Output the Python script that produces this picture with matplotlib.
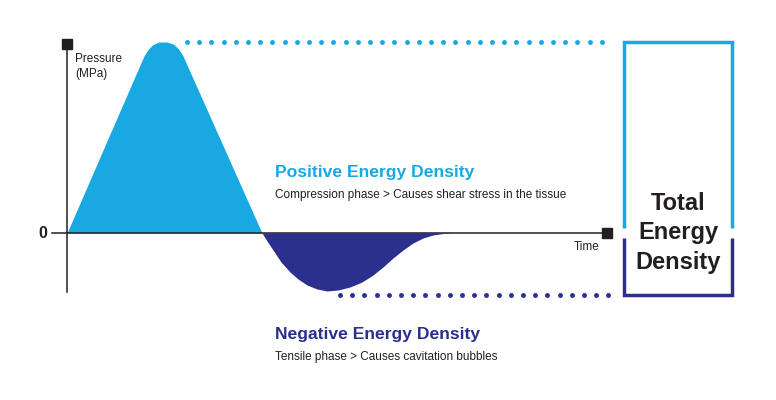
import numpy as np
import matplotlib.pyplot as plt

plt.rcParams['font.family'] = ['Liberation Sans', 'DejaVu Sans']

LIGHT = '#18A9E3'
DARK = '#2B2F8E'
INK = '#231F20'

# compression pulse (time, pressure)
pos_t = [0, 73, 77, 81, 86, 92, 100, 107, 112, 116, 120, 195]
pos_p = [0, 168, 177, 183.5, 188.5, 191, 191, 188.5, 183.5, 177, 168, 0]

# tensile pulse
neg_t = [195, 200, 206, 214, 223, 231, 240, 250, 260, 271, 283, 295, 306, 316, 326, 336, 346, 356, 366, 376, 386]
neg_p = [0, -8, -17, -29, -39, -46, -52, -56, -58, -57, -54, -49, -42, -34, -25, -17, -10, -5, -2, -0.5, 0]

fig = plt.figure(figsize=(7.76, 4.0), dpi=100)
ax = fig.add_axes([0, 0, 1, 1])
ax.set_xlim(-67, 709)
ax.set_ylim(-167, 233)
ax.axis('off')

# pulses
ax.fill_between(pos_t, pos_p, 0, color=LIGHT, lw=0)
ax.fill_between(neg_t, neg_p, 0, color=DARK, lw=0)

# axes
ax.plot([-15, 540], [0, 0], color=INK, lw=1.1, zorder=3)
ax.plot([0, 0], [-59, 188], color=INK, lw=1.1, zorder=3)
ax.plot([0], [189], marker='s', ms=7, color=INK, zorder=4)
ax.plot([540], [0], marker='s', ms=7, color=INK, zorder=4)

ax.text(-20, 0, '0', ha='right', va='center', fontsize=11.5, fontweight='bold', color=INK)
ax.text(8, 180, 'Pressure\n(MPa)', ha='left', va='top', fontsize=8.5, color=INK, linespacing=1.3)
ax.text(520, -14, 'Time', ha='center', va='center', fontsize=8.5, color=INK)

# dotted guide lines
top = max(pos_p)
bot = min(neg_p) - 4
dots_t = np.arange(120, 545, 12.2)
ax.plot(dots_t, [top] * len(dots_t), ls='none', marker='o', ms=2.5, color=LIGHT)
dots_b = np.arange(273, 545, 12.2)
ax.plot(dots_b, [bot] * len(dots_b), ls='none', marker='o', ms=2.5, color=DARK)

# total energy density box
x0, x1 = 557, 665
ax.plot([x0, x0, x1, x1], [5, top, top, 5], color=LIGHT, lw=2.5,
        solid_joinstyle='miter', solid_capstyle='butt')
ax.plot([x0, x0, x1, x1], [-5, bot, bot, -5], color=DARK, lw=2.5,
        solid_joinstyle='miter', solid_capstyle='butt')
ax.text((x0 + x1) / 2, 0, 'Total\nEnergy\nDensity', ha='center', va='center',
        fontsize=17, fontweight='bold', color=INK, linespacing=1.36)

# annotations
ax.text(208, 61, 'Positive Energy Density', ha='left', va='center',
        fontsize=12.6, fontweight='bold', color=LIGHT)
ax.text(208, 38, 'Compression phase > Causes shear stress in the tissue',
        ha='left', va='center', fontsize=8.5, color=INK)
ax.text(208, -102, 'Negative Energy Density', ha='left', va='center',
        fontsize=12.6, fontweight='bold', color=DARK)
ax.text(208, -124, 'Tensile phase > Causes cavitation bubbles',
        ha='left', va='center', fontsize=8.5, color=INK)

fig.savefig('out.png', dpi=100, facecolor='white')
